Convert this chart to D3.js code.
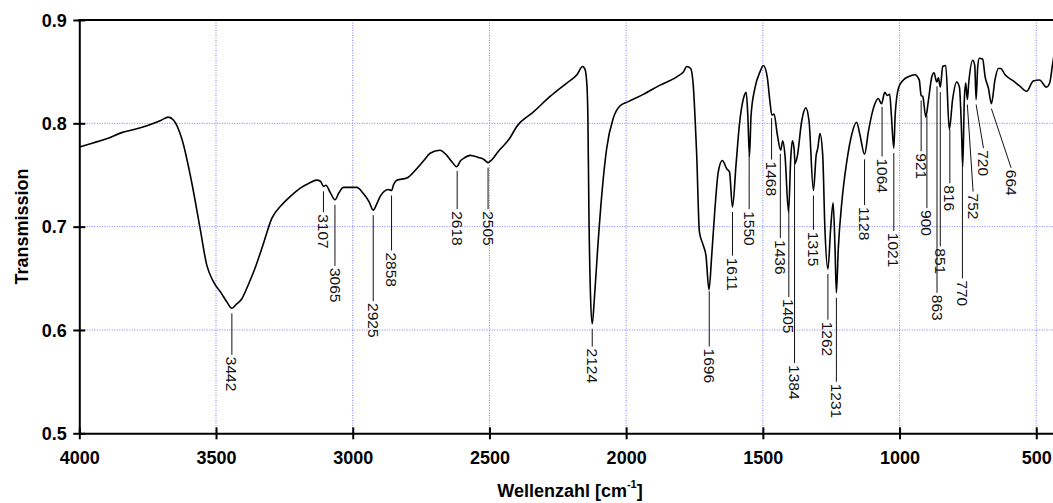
<!DOCTYPE html>
<html>
<head>
<meta charset="utf-8">
<script src="https://cdn.jsdelivr.net/npm/d3@7"></script>
<style>
body { margin: 0; background: #fff; }
svg { display: block; font-family: "Liberation Sans", Arial, sans-serif; }
</style>
</head>
<body>
<svg id="svg1" width="1053" height="503"></svg>
<script>
// spectrum (wavenumber in cm-1, transmission)
var wavenumbers = [4000,3950,3900,3845,3800,3750,3700,3675,3655,3625,3589,3558,3534,3510,3479,3460,3442,3425,3406,3380,
  3357,3325,3296,3260,3229,3193,3160,3132,3118,3107,3098,3082,3065,3050,3034,3016,2985,2961,2940,2925,
  2912,2900,2870,2858,2850,2839,2802,2766,2740,2717,2681,2656,2635,2620,2605,2595,2571,2541,2520,2505,
  2490,2467,2427,2400,2339,2278,2217,2180,2159,2150,2143,2140,2136,2130,2124,2116,2104,2089,2071,2047,
  2022,1992,1937,1876,1815,1790,1778,1764,1754,1747,1742,1732,1718,1708,1697,1687,1675,1663,1648,1632,
  1622,1611,1598,1586,1571,1561,1555,1549,1543,1529,1510,1498,1484,1474,1467,1459,1447,1435,1427,1419,
  1406,1398,1392,1386,1382,1374,1358,1343,1331,1315,1305,1299,1291,1281,1273,1262,1252,1243,1236,1231,
  1224,1211,1193,1175,1157,1145,1128,1114,1102,1090,1078,1066,1054,1045,1036,1030,1021,1016,1004,986,
  968,944,928,921,915,904,895,882,874,864,858,851,842,831,818,806,791,781,773,769,
  763,758,752,747,732,725,720,714,708,696,687,675,664,651,639,630,614,584,560,535,
  511,488,463,451,441,430];
var transmission = [0.777,0.781,0.785,0.791,0.794,0.798,0.803,0.806,0.803,0.785,0.743,0.698,0.663,0.647,0.635,0.627,0.621,0.625,0.630,0.645,
  0.660,0.685,0.708,0.721,0.729,0.737,0.742,0.745,0.744,0.739,0.740,0.733,0.726,0.733,0.738,0.738,0.738,0.732,0.724,0.716,
  0.722,0.729,0.736,0.735,0.741,0.745,0.747,0.756,0.764,0.771,0.774,0.769,0.762,0.758,0.764,0.766,0.769,0.767,0.765,0.762,
  0.765,0.773,0.785,0.797,0.811,0.826,0.839,0.847,0.855,0.852,0.835,0.808,0.711,0.631,0.606,0.631,0.679,0.731,0.776,0.805,
  0.817,0.821,0.828,0.837,0.845,0.850,0.855,0.853,0.835,0.800,0.770,0.695,0.682,0.672,0.639,0.672,0.718,0.753,0.764,0.756,
  0.753,0.719,0.760,0.798,0.824,0.830,0.808,0.768,0.808,0.834,0.850,0.856,0.845,0.821,0.808,0.809,0.789,0.774,0.783,0.769,
  0.714,0.766,0.783,0.776,0.761,0.768,0.802,0.815,0.802,0.735,0.769,0.776,0.790,0.769,0.698,0.659,0.698,0.723,0.679,0.636,
  0.679,0.724,0.763,0.789,0.801,0.789,0.770,0.792,0.808,0.819,0.824,0.819,0.830,0.827,0.828,0.808,0.776,0.808,0.834,0.842,
  0.845,0.847,0.842,0.827,0.826,0.806,0.821,0.845,0.849,0.840,0.844,0.835,0.855,0.856,0.794,0.823,0.840,0.835,0.790,0.758,
  0.823,0.839,0.823,0.839,0.861,0.856,0.823,0.855,0.863,0.862,0.845,0.834,0.819,0.842,0.853,0.853,0.847,0.841,0.836,0.831,
  0.841,0.842,0.835,0.839,0.856,0.875];

// peak labels: wavenumber, transmission where the text begins, wavenumber where the text sits
var peakLabels = [3442,3107,3065,2925,2858,2618,2505,2124,1696,1611,1550,1468,1436,1405,1384,1315,1262,1231,1128,1064,1021,921,900,863,851,816,770,752,720,664];
var peakLabelT = [0.574,0.712,0.660,0.626,0.675,0.715,0.715,0.582,0.582,0.670,0.715,0.763,0.687,0.630,0.566,0.695,0.608,0.548,0.719,0.766,0.694,0.771,0.716,0.634,0.679,0.740,0.648,0.732,0.774,0.755];
var peakTextW = [3442,3107,3065,2925,2858,2618,2505,2124,1696,1611,1550,1468,1436,1405,1384,1315,1262,1231,1128,1064,1021,921,900,863,851,816,770,731,693,592];

var xTicks = [4000,3500,3000,2500,2000,1500,1000,500];
var yTicks = [0.5,0.6,0.7,0.8,0.9];

var svg = d3.select('#svg1');

var x = d3.scaleLinear().domain([4000, 400]).range([79.3, 1063.6]);
var y = d3.scaleLinear().domain([0.5, 0.9]).range([433.3, 20]);

// grid
svg.append('g').selectAll('line')
    .data(xTicks.slice(1))
    .enter().append('line')
    .attr('x1', function(d){ return x(d); })
    .attr('x2', function(d){ return x(d); })
    .attr('y1', y(0.9)).attr('y2', y(0.5))
    .attr('stroke', '#7b7bff').attr('stroke-width', 1)
    .attr('stroke-dasharray', '1,1.5');

svg.append('g').selectAll('line')
    .data(yTicks.slice(1, -1))
    .enter().append('line')
    .attr('x1', x(4000)).attr('x2', x(400))
    .attr('y1', function(d){ return y(d); })
    .attr('y2', function(d){ return y(d); })
    .attr('stroke', '#7b7bff').attr('stroke-width', 1)
    .attr('stroke-dasharray', '1,1.5');

// spectrum
var pts = wavenumbers.map(function(w, i){ return [w, transmission[i]]; });

var line = d3.line()
    .x(function(d){ return x(d[0]); })
    .y(function(d){ return y(d[1]); })
    .curve(d3.curveMonotoneX);

svg.append('path')
    .datum(pts)
    .attr('d', line)
    .attr('fill', 'none')
    .attr('stroke', '#000')
    .attr('stroke-width', 1.6)
    .attr('stroke-linejoin', 'round');

// value of the curve at a wavenumber
function curveAt(w) {
    for (var i = 0; i < wavenumbers.length - 1; i++) {
        if (wavenumbers[i] >= w && wavenumbers[i + 1] <= w) {
            var t = (wavenumbers[i] - w) / (wavenumbers[i] - wavenumbers[i + 1]);
            return transmission[i] + t * (transmission[i + 1] - transmission[i]);
        }
    }
    return transmission[transmission.length - 1];
}

// peak labels
var labels = svg.append('g').selectAll('g')
    .data(peakLabels)
    .enter().append('g');

labels.append('line')
    .attr('x1', function(d){ return x(d); })
    .attr('y1', function(d){ return y(curveAt(d)) + 5; })
    .attr('x2', function(d, i){ return x(peakTextW[i]); })
    .attr('y2', function(d, i){ return y(peakLabelT[i]) - 2; })
    .attr('stroke', '#111')
    .attr('stroke-width', 1);

labels.append('text')
    .attr('transform', function(d, i){
        return 'translate(' + x(peakTextW[i]) + ',' + y(peakLabelT[i]) + ') rotate(90)';
    })
    .attr('dy', '0.35em')
    .attr('font-size', 15.5)
    .attr('fill', '#111')
    .text(function(d){ return d; });

// axes
var xAxis = svg.append('g')
    .attr('transform', 'translate(0,' + y(0.5) + ')')
    .call(d3.axisBottom(x).tickValues(xTicks).tickSizeOuter(0).tickFormat(d3.format('d')));

xAxis.select('.domain').attr('stroke-width', 2);
xAxis.selectAll('.tick line').attr('y1', -6).attr('y2', 6).attr('stroke-width', 2);
xAxis.selectAll('.tick text')
    .attr('y', 31).attr('dy', 0)
    .attr('font-size', 18).attr('font-weight', 'bold')
    .attr('font-family', '"Liberation Sans", Arial, sans-serif')
    .attr('fill', '#000');

var yAxis = svg.append('g')
    .attr('transform', 'translate(' + x(4000) + ',0)')
    .call(d3.axisLeft(y).tickValues(yTicks).tickSizeOuter(0).tickFormat(d3.format('.1f')));

yAxis.select('.domain').attr('stroke-width', 2);
yAxis.selectAll('.tick line').attr('x1', 6).attr('x2', -6).attr('stroke-width', 2);
yAxis.selectAll('.tick text')
    .attr('x', -12.5).attr('dy', '0.35em')
    .attr('font-size', 18).attr('font-weight', 'bold')
    .attr('font-family', '"Liberation Sans", Arial, sans-serif')
    .attr('fill', '#000');

// top frame
svg.append('line')
    .attr('x1', x(4000) - 1).attr('x2', x(400))
    .attr('y1', y(0.9)).attr('y2', y(0.9))
    .attr('stroke', '#000').attr('stroke-width', 2);

// axis titles
var xTitle = svg.append('text')
    .attr('x', 570).attr('y', 497)
    .attr('text-anchor', 'middle')
    .attr('font-size', 18).attr('font-weight', 'bold');
xTitle.append('tspan').text('Wellenzahl [cm');
xTitle.append('tspan').attr('font-size', 11).attr('dy', -9).text('-1');
xTitle.append('tspan').attr('dy', 9).text(']');

svg.append('text')
    .attr('transform', 'translate(28,226.5) rotate(-90)')
    .attr('text-anchor', 'middle')
    .attr('font-size', 18).attr('font-weight', 'bold')
    .text('Transmission');
</script>
</body>
</html>
